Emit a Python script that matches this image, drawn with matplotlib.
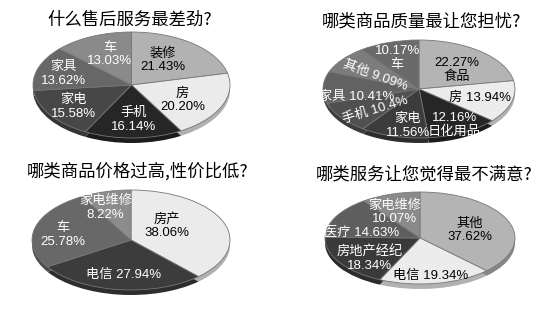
import numpy as np
import matplotlib
matplotlib.use("Agg")
import matplotlib.pyplot as plt
from matplotlib.colors import to_rgb

plt.rcParams['font.family'] = ['Liberation Sans', 'Noto Sans CJK SC', 'DejaVu Sans']

W, H = 550, 316

# ---- data ----
titles = ["什么售后服务最差劲?", "哪类商品质量最让您担忧?",
          "哪类商品价格过高,性价比低?", "哪类服务让您觉得最不满意?"]

p1_names = ["装修", "房", "手机", "家电", "家具", "车"]
p1_vals = [21.43, 20.20, 16.14, 15.58, 13.62, 13.03]
p1_pct = ["21.43%", "20.20%", "16.14%", "15.58%", "13.62%", "13.03%"]

p2_names = ["食品", "房", "日化用品", "家电", "手机", "家具", "其他", "车"]
p2_vals = [22.27, 13.94, 12.16, 11.56, 10.4, 10.41, 9.09, 10.17]
p2_pct = ["22.27%", "13.94%", "12.16%", "11.56%", "10.4%", "10.41%", "9.09%", "10.17%"]

p3_names = ["房产", "电信", "车", "家电维修"]
p3_vals = [38.06, 27.94, 25.78, 8.22]
p3_pct = ["38.06%", "27.94%", "25.78%", "8.22%"]

p4_names = ["其他", "电信", "房地产经纪", "医疗", "家电维修"]
p4_vals = [37.62, 19.34, 18.34, 14.63, 10.07]
p4_pct = ["37.62%", "19.34%", "18.34%", "14.63%", "10.07%"]

# ---- styles ----
p1_colors = ["#b2b2b2", "#ebebeb", "#262626", "#474747", "#676767", "#8a8a8a"]
p2_colors = ["#b4b4b4", "#ececec", "#262626", "#3c3c3c", "#505050",
             "#626262", "#7c7c7c", "#6a6a6a"]
p3_colors = ["#ebebeb", "#3c3c3c", "#686868", "#8c8c8c"]
p4_colors = ["#b4b4b4", "#ececec", "#3a3a3a", "#5e5e5e", "#8a8a8a"]

# label layout: "nl" = name over pct, "pn" = pct over name, "sp" = one line
p1_fmt = ["nl"] * 6
p2_fmt = ["pn", "sp", "pn", "nl", "sp", "sp", "sp", "pn"]
p3_fmt = ["nl", "sp", "nl", "nl"]
p4_fmt = ["nl", "sp", "nl", "sp", "nl"]

# label radius (fraction) and angle nudge (deg) from the wedge middle
p1_r = [0.57, 0.59, 0.66, 0.72, 0.72, 0.61]
p1_dang = [4.5, -5, 1, 1, 1.5, -2.5]
p2_r = [0.55, 0.66, 0.82, 0.76, 0.63, 0.67, 0.53, 0.67]
p2_dang = [-5.5, -1, -1, 6, 7.5, 16, 7, 1.5]
p3_r = [0.46, 0.7, 0.7, 0.69]
p3_dang = [16, 1.5, 6, 7]
p4_r = [0.55, 0.83, 0.7, 0.62, 0.62]
p4_dang = [-4, -2, 9, 17, 7]

p2_rot = [0, 0, 0, 0, 17, 0, -20, 0]


def text_color(c):
    return "black" if np.mean(to_rgb(c)) > 0.6 else "white"


def draw_pie(cx, cy, rx, ry, names, vals, pcts, colors, fmts, radii, dangs, rots=None, rim=5):
    d = rim / ry
    ax = fig.add_axes([(cx - rx - 2) / W, 1 - (cy + ry + rim + 2) / H,
                       (2 * rx + 4) / W, (2 * ry + rim + 4) / H])
    dark = [tuple(v * 0.75 for v in to_rgb(c)) for c in colors]
    ax.pie(vals, colors=dark, startangle=90, counterclock=False,
           center=(0, -d), wedgeprops=dict(linewidth=0))
    ax.pie(vals, colors=colors, startangle=90, counterclock=False,
           wedgeprops=dict(edgecolor="#777777", linewidth=0.6))
    ax.set_aspect("auto")
    ax.set_xlim(-1 - 2 / rx, 1 + 2 / rx)
    ax.set_ylim(-1 - d - 2 / ry, 1 + 2 / ry)
    ax.axis("off")

    total = sum(vals)
    cum = np.cumsum([0] + list(vals))
    for i, name in enumerate(names):
        mid = (cum[i] + cum[i + 1]) / 2 / total
        ang = np.deg2rad(90 - 360 * mid + dangs[i])
        if fmts[i] == "nl":
            s = f"{name}\n{pcts[i]}"
        elif fmts[i] == "pn":
            s = f"{pcts[i]}\n{name}"
        else:
            s = f"{name} {pcts[i]}"
        ax.text(radii[i] * np.cos(ang), radii[i] * np.sin(ang), s,
                ha="center", va="center", fontsize=9.5, linespacing=1.15,
                color=text_color(colors[i]),
                rotation=0 if rots is None else rots[i])
    return ax


fig = plt.figure(figsize=(5.5, 3.16), dpi=100)
fig.patch.set_facecolor("white")

draw_pie(131.5, 85, 98.5, 53, p1_names, p1_vals, p1_pct, p1_colors, p1_fmt, p1_r, p1_dang)
draw_pie(419, 89, 96, 49, p2_names, p2_vals, p2_pct, p2_colors, p2_fmt, p2_r, p2_dang, p2_rot)
draw_pie(131, 240, 99, 50, p3_names, p3_vals, p3_pct, p3_colors, p3_fmt, p3_r, p3_dang)
draw_pie(420, 238, 95, 46, p4_names, p4_vals, p4_pct, p4_colors, p4_fmt, p4_r, p4_dang)

title_pos = [(130, 20), (421, 22), (138, 171), (424, 174)]
for t, (x, y) in zip(titles, title_pos):
    fig.text(x / W, 1 - y / H, t, ha="center", va="center", fontsize=12.5,
             family=["Noto Sans CJK SC", "DejaVu Sans"])

fig.savefig("out.png", dpi=100)
